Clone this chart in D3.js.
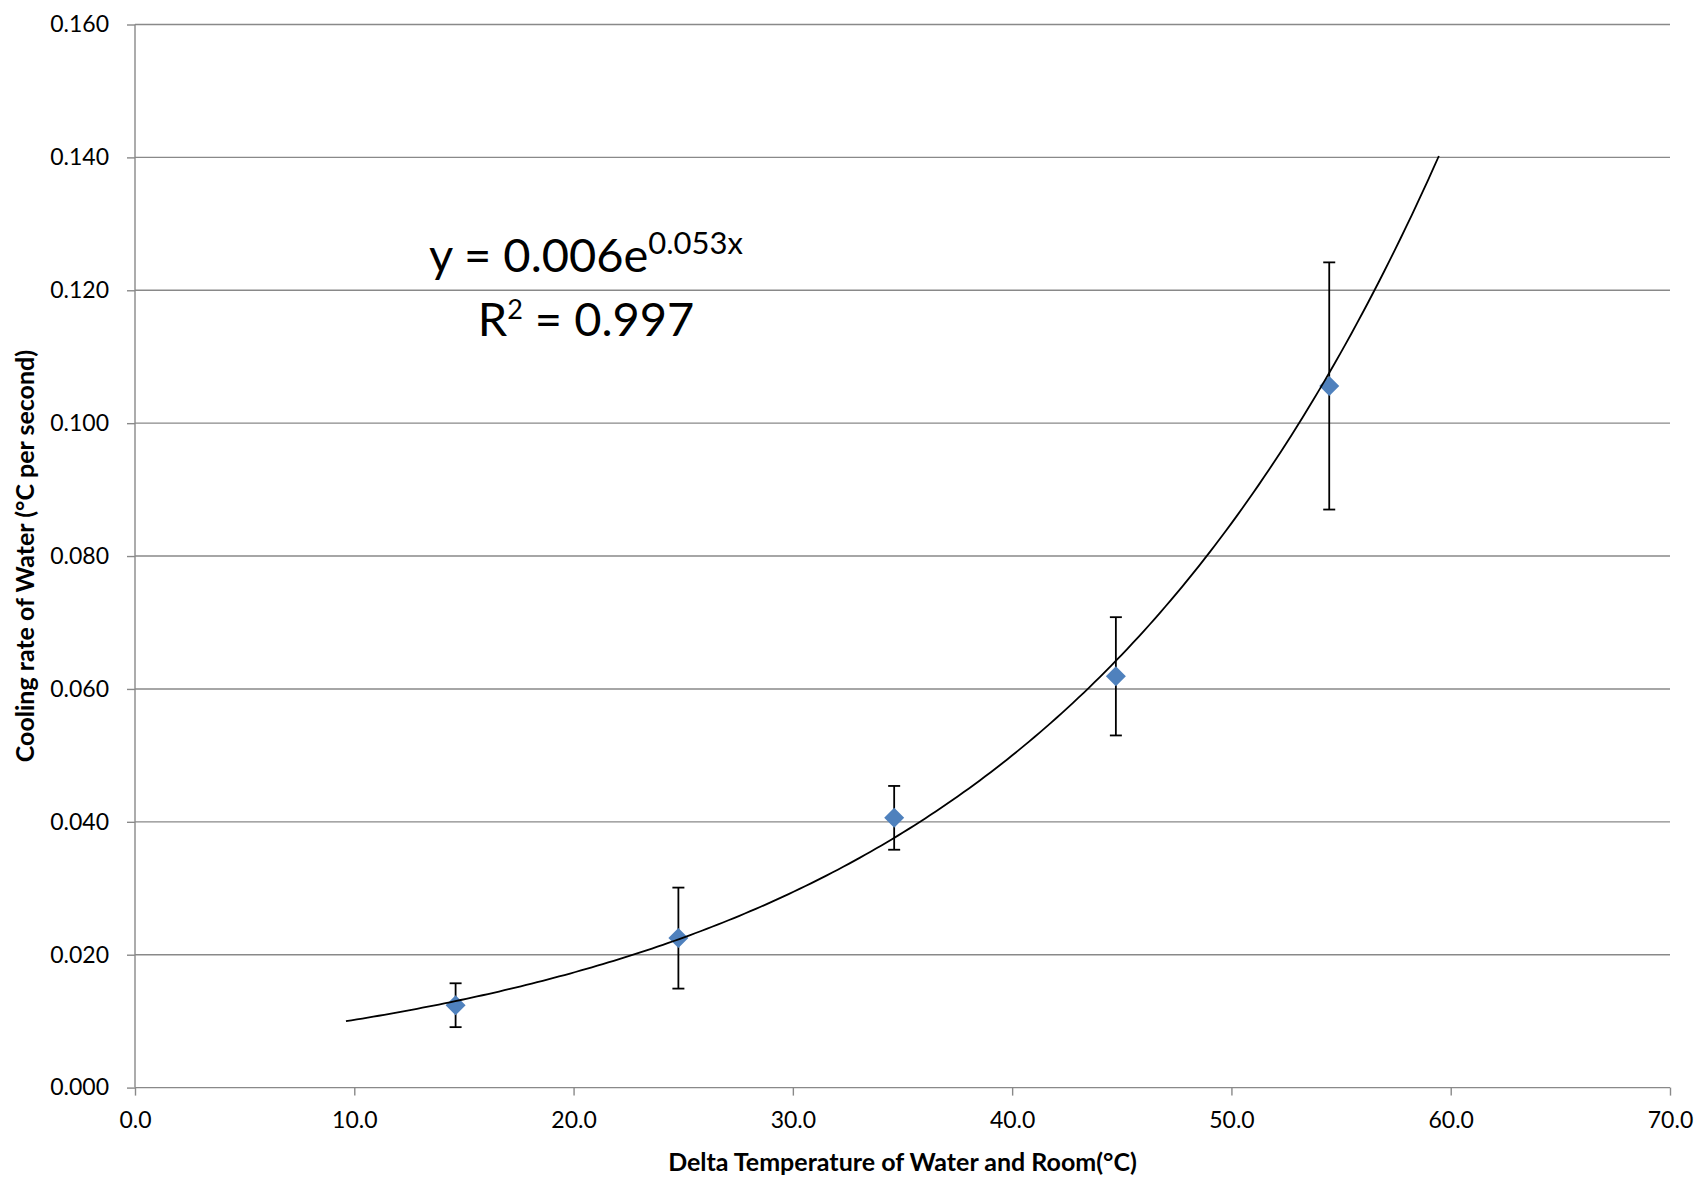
<!DOCTYPE html>
<html>
<head>
<meta charset="utf-8">
<script src="https://cdn.jsdelivr.net/npm/d3@7"></script>
<style>
  html, body { margin: 0; padding: 0; background: #fff; }
  svg { display: block; }
  text { font-family: Lato, "Open Sans", sans-serif; fill: #000; }
</style>
</head>
<body>
<script>
// Measured cooling rate vs. water/room temperature difference
const deltaT      = [14.62, 24.78, 34.62, 44.73, 54.46];
const coolingRate = [0.0124, 0.0225, 0.0406, 0.0619, 0.1056];
const rateError   = [0.0033, 0.0076, 0.0048, 0.0089, 0.0186];

// Exponential fit y = a·e^(b·x), extended 5 units either side of the data
const fitA = 0.006;
const fitB = 0.053;
const fitR2 = 0.997;
const forecast = 5;

const xTicks = [0, 10, 20, 30, 40, 50, 60, 70];
const yTicks = [0, 0.02, 0.04, 0.06, 0.08, 0.1, 0.12, 0.14, 0.16];

const W = 1702, H = 1178;
const plotL = 135, plotR = 1670, plotT = 24.5, plotB = 1087.6;
const gridColor = "#898989";

const svg = d3.select("body").append("svg").attr("width", W).attr("height", H);

const x = d3.scaleLinear().domain([0, 70]).range([plotL, plotR]);
const y = d3.scaleLinear().domain([0, 0.16]).range([plotB, plotT]);

// horizontal gridlines
svg.append("g").selectAll("line").data(yTicks.slice(1)).join("line")
  .attr("x1", plotL).attr("x2", plotR)
  .attr("y1", d => y(d)).attr("y2", d => y(d))
  .attr("stroke", gridColor).attr("stroke-width", 1.4);

// y axis
const yAxis = svg.append("g").attr("transform", `translate(${plotL},0)`)
  .call(d3.axisLeft(y).tickValues(yTicks).tickFormat(d3.format(".3f")).tickSize(8).tickSizeOuter(0).tickPadding(18));
// x axis
const xAxis = svg.append("g").attr("transform", `translate(0,${plotB})`)
  .call(d3.axisBottom(x).tickValues(xTicks).tickFormat(d3.format(".1f")).tickSize(8).tickSizeOuter(0).tickPadding(16));

[yAxis, xAxis].forEach(g => {
  g.select(".domain").attr("stroke", gridColor).attr("stroke-width", 1.4);
  g.selectAll(".tick line").attr("stroke", gridColor).attr("stroke-width", 1.4);
  g.selectAll(".tick text").attr("font-size", 23).attr("font-family", "Lato, sans-serif").attr("fill", "#000");
});
yAxis.select(".domain").attr("d", `M0,${plotB}V${plotT}`);
xAxis.select(".domain").attr("d", `M${plotL},0H${plotR}`);

// error bars
const pts = deltaT.map((d, i) => ({ x: d, y: coolingRate[i], e: rateError[i] }));
const eb = svg.append("g").attr("stroke", "#000").attr("stroke-width", 1.8).attr("fill", "none");
pts.forEach(p => {
  const cx = x(p.x), y1 = y(p.y + p.e), y0 = y(p.y - p.e);
  eb.append("line").attr("x1", cx).attr("x2", cx).attr("y1", y1).attr("y2", y0);
  eb.append("line").attr("x1", cx - 6).attr("x2", cx + 6).attr("y1", y1).attr("y2", y1);
  eb.append("line").attr("x1", cx - 6).attr("x2", cx + 6).attr("y1", y0).attr("y2", y0);
});

// diamond markers
svg.append("g").selectAll("path").data(pts).join("path")
  .attr("d", "M0,-10L10,0L0,10L-10,0Z")
  .attr("transform", p => `translate(${x(p.x)},${y(p.y)})`)
  .attr("fill", "#4F81BD");

// trendline
const tx0 = d3.min(deltaT) - forecast, tx1 = d3.max(deltaT) + forecast;
const trend = d3.range(0, 201).map(i => tx0 + (tx1 - tx0) * i / 200)
  .map(v => [v, fitA * Math.exp(fitB * v)]);
svg.append("path").datum(trend)
  .attr("d", d3.line().x(d => x(d[0])).y(d => y(d[1])))
  .attr("fill", "none").attr("stroke", "#000").attr("stroke-width", 1.8);

// fit equation label
const eq = svg.append("text").attr("x", 586).attr("y", 272).attr("text-anchor", "middle").attr("font-size", 47);
eq.append("tspan").text(`y = ${fitA}e`);
eq.append("tspan").attr("font-size", 31).attr("dy", -18).text(`${fitB}x`);
const r2 = svg.append("text").attr("x", 586).attr("y", 336).attr("text-anchor", "middle").attr("font-size", 47);
r2.append("tspan").text("R");
r2.append("tspan").attr("font-size", 27).attr("dy", -17).text("2");
r2.append("tspan").attr("dy", 17).text(` = ${fitR2}`);

// axis titles
svg.append("text").attr("x", (plotL + plotR) / 2).attr("y", 1171)
  .attr("text-anchor", "middle").attr("font-size", 25).attr("font-weight", "bold")
  .text("Delta Temperature of Water and Room(°C)");
svg.append("text").attr("transform", `translate(34,${(plotT + plotB) / 2}) rotate(-90)`)
  .attr("text-anchor", "middle").attr("font-size", 25).attr("font-weight", "bold")
  .text("Cooling rate of Water (°C per second)");
</script>
</body>
</html>
